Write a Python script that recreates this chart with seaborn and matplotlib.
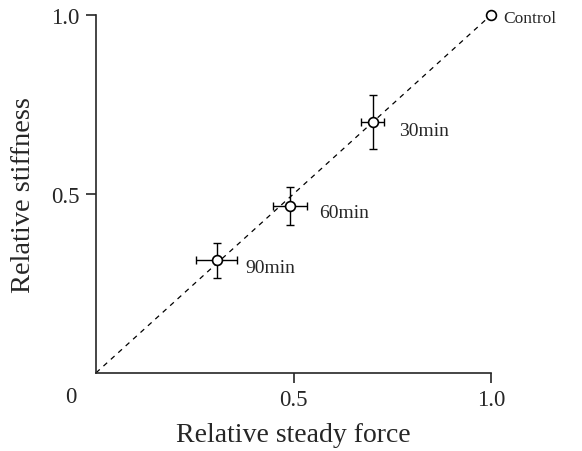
import matplotlib
matplotlib.use("Agg")
import matplotlib.pyplot as plt
import seaborn as sns
import pandas as pd

# values
labels = ["Control", "30min", "60min", "90min"]
force = [1.0, 0.70, 0.49, 0.305]
stiffness = [1.0, 0.70, 0.466, 0.314]
force_err = [0.0, 0.029, 0.043, 0.051]
stiff_err = [0.0, 0.075, 0.052, 0.049]

df = pd.DataFrame({"label": labels, "force": force, "stiffness": stiffness,
                   "xerr": force_err, "yerr": stiff_err})

sns.set_style("ticks")
plt.rcParams["font.family"] = ["Liberation Serif", "DejaVu Serif"]

fig = plt.figure(figsize=(5.82, 4.52), dpi=100)
ax = fig.add_axes([0.165, 0.173, 0.679, 0.792])

# identity line
ax.axline((0, 0), slope=1, color="black", lw=0.9, ls=(0, (4, 4)))

err = df[df["xerr"] > 0]
ax.errorbar(err["force"], err["stiffness"], xerr=err["xerr"], yerr=err["yerr"],
            fmt="none", ecolor="black", elinewidth=1.0, capsize=3, capthick=1.0)
sns.scatterplot(data=df, x="force", y="stiffness", ax=ax, s=50,
                facecolor="white", edgecolor="black", linewidth=1.2, zorder=3,
                clip_on=False)

offsets = {"Control": (9, -2), "30min": (19, -6), "60min": (21, -5), "90min": (21, -5)}
sizes = {"Control": 12.5}
for _, r in df.iterrows():
    ax.annotate(r["label"], (r["force"], r["stiffness"]),
                xytext=offsets[r["label"]], textcoords="offset points",
                fontsize=sizes.get(r["label"], 14), va="center", ha="left",
                annotation_clip=False)

ax.set_xlim(0, 1.0)
ax.set_ylim(0, 1.0)
ax.set_xticks([0.5, 1.0])
ax.set_yticks([0.5, 1.0])
ax.set_xticklabels(["0.5", "1.0"])
ax.set_yticklabels(["0.5", "1.0"])
ax.tick_params(labelsize=16.5, length=7, width=1.2, pad=5)
ax.text(-0.065, -0.065, "0", transform=ax.transAxes, fontsize=16.5,
        ha="center", va="center")

ax.set_xlabel("Relative steady force", fontsize=20, labelpad=8)
ax.set_ylabel("Relative stiffness", fontsize=20.5, labelpad=11)
sns.despine(ax=ax)
for s in ["left", "bottom"]:
    ax.spines[s].set_linewidth(1.2)

fig.savefig("out.png", dpi=100)
